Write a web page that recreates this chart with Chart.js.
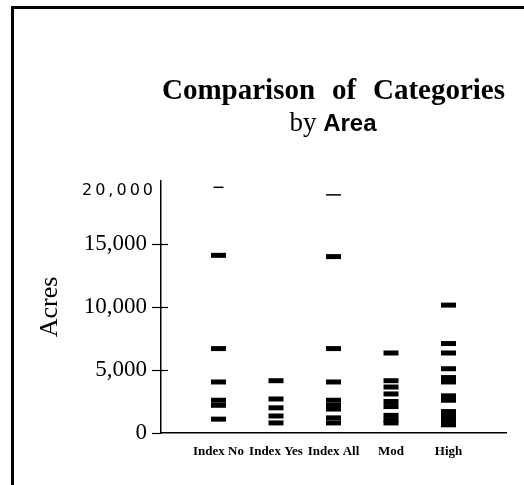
<!DOCTYPE html>
<html>
<head>
<meta charset="utf-8">
<script src="https://cdn.jsdelivr.net/npm/chart.js@4.4.1/dist/chart.umd.min.js"></script>
<style>
  html, body { margin: 0; padding: 0; background: #fff; }
  #wrap { width: 524px; height: 485px; }
</style>
</head>
<body>
<div id="wrap"><canvas id="chart" width="524" height="485"></canvas></div>
<script>
// acres per site
const categories = ["Index No", "Index Yes", "Index All", "Mod", "High"];
const indexNo = [14100, 6700, 4050, 2600, 2200, 1100];
const indexYes = [4150, 2700, 2000, 1350, 800];
const indexAll = [14000, 6700, 4050, 2600, 2200, 1900, 1200, 800];
const mod = [6350, 4150, 3650, 3100, 2500, 2100, 1400, 1050, 800];
const high = [10150, 7100, 6350, 5100, 4400, 4050, 2950, 2600, 1700, 1350, 1000, 650];
// the thin marks drawn up near the top
const thinMarks = [19500, null, 18900, null, null];

const yTickValues = [0, 5000, 10000, 15000, 20000];
const yTickLabels = ["0", "5,000", "10,000", "15,000", "20,000"];
const titleWords = ["Comparison", "of", "Categories"];
const subtitleParts = ["by", "Area"];

const series = [indexNo, indexYes, indexAll, mod, high];

const datasets = series.map((vals, i) => ({
    label: categories[i],
    data: vals.map(v => ({ x: i + 1, y: v })),
    pointStyle: "line",
    pointRadius: 7.5,
    pointBorderWidth: 5,
    borderColor: "#000",
    backgroundColor: "#000",
}));

datasets.push({
    label: "max",
    data: thinMarks.map((v, i) => (v == null ? null : { x: i + 1, y: v })).filter(Boolean),
    pointStyle: "line",
    pointRadius: [5, 7.5],
    pointBorderWidth: 1.5,
    borderColor: "#000",
    backgroundColor: "#000",
});

const decor = {
    id: "decor",
    afterDraw(chart) {
        const ctx = chart.ctx;
        const area = chart.chartArea;
        const y = chart.scales.y;
        ctx.save();
        ctx.fillStyle = "#000";
        // frame (left and top only)
        ctx.fillRect(11, 6, 3, 485);
        ctx.fillRect(11, 6, 513, 3);

        // title line 1, spread across 162..505
        ctx.font = "bold 29px 'Liberation Serif'";
        ctx.textBaseline = "alphabetic";
        ctx.textAlign = "left";
        const widths = titleWords.map(w => ctx.measureText(w).width);
        const total = widths.reduce((a, b) => a + b, 0);
        const gap = (505 - 162 - total) / (titleWords.length - 1);
        let x = 162;
        titleWords.forEach((w, i) => {
            ctx.fillText(w, x, 99);
            x += widths[i] + gap;
        });

        // title line 2: "by" serif, "Area" bold sans
        const f1 = "27px 'Liberation Serif'";
        const f2 = "bold 24px 'Liberation Sans'";
        ctx.font = f1;
        const w1 = ctx.measureText(subtitleParts[0] + " ").width;
        ctx.font = f2;
        const w2 = ctx.measureText(subtitleParts[1]).width;
        let sx = 333 - (w1 + w2) / 2;
        ctx.font = f1;
        ctx.fillText(subtitleParts[0] + " ", sx, 131);
        ctx.font = f2;
        ctx.fillText(subtitleParts[1], sx + w1, 131);

        // top tick label in its own letter-spaced sans face
        ctx.font = "16px 'DejaVu Sans'";
        ctx.letterSpacing = "3px";
        ctx.fillText(yTickLabels[4], 82, 195);
        ctx.letterSpacing = "0px";

        // tick marks cross the axis
        ctx.strokeStyle = "#000";
        ctx.lineWidth = 1.2;
        yTickValues.slice(1, 4).forEach(v => {
            const py = Math.round(y.getPixelForValue(v)) + 0.5;
            ctx.beginPath();
            ctx.moveTo(area.left, py);
            ctx.lineTo(area.left + 7, py);
            ctx.stroke();
        });
        ctx.restore();
    },
};

new Chart(document.getElementById("chart"), {
    type: "scatter",
    data: { datasets },
    options: {
        responsive: false,
        animation: false,
        devicePixelRatio: 1,
        events: [],
        layout: { padding: { top: 181, right: 18, bottom: 0, left: 0 } },
        plugins: {
            legend: { display: false },
            tooltip: { enabled: false },
        },
        scales: {
            x: {
                type: "linear",
                min: 0,
                max: 6,
                afterBuildTicks: (scale) => {
                    scale.ticks = categories.map((c, i) => ({ value: i + 1 }));
                },
                afterFit: (scale) => { scale.height = 52; },
                ticks: {
                    callback: (v) => categories[v - 1],
                    font: { family: "'Liberation Serif'", size: 13, weight: "bold" },
                    color: "#000",
                    padding: 11,
                    maxRotation: 0,
                    autoSkip: false,
                },
                grid: { drawOnChartArea: false, drawTicks: false },
                border: { display: true, color: "#000", width: 1.5 },
            },
            y: {
                min: 0,
                max: 20000,
                afterBuildTicks: (scale) => {
                    scale.ticks = yTickValues.map(v => ({ value: v }));
                },
                afterFit: (scale) => { scale.width = 161; },
                ticks: {
                    callback: (v) => (v === 20000 ? "" : yTickLabels[yTickValues.indexOf(v)]),
                    font: { family: "'Liberation Serif'", size: 23 },
                    color: "#000",
                    padding: 5,
                },
                grid: {
                    drawOnChartArea: false,
                    tickLength: 9,
                    tickWidth: 1.2,
                    tickColor: (ctx) => (ctx.tick && ctx.tick.value === 20000 ? "rgba(0,0,0,0)" : "#000"),
                },
                border: { display: true, color: "#000", width: 1.5 },
                title: {
                    display: true,
                    text: "Acres",
                    font: { family: "'Liberation Serif'", size: 26 },
                    color: "#000",
                    padding: { top: 35, bottom: 0 },
                },
            },
        },
    },
    plugins: [decor],
});
</script>
</body>
</html>
